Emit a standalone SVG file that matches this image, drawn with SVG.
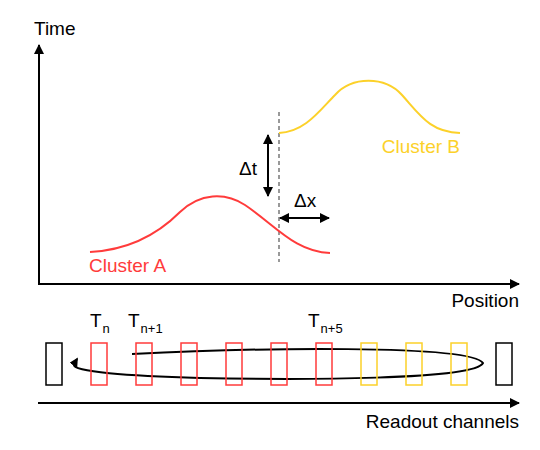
<svg xmlns="http://www.w3.org/2000/svg" width="540" height="450" viewBox="0 0 540 450">
<style>
text{font-family:"Liberation Sans",Arial,sans-serif;font-size:19px;fill:#000}
.ax{stroke:#000;stroke-width:2;fill:none}
.red{stroke:#ff3b3b;stroke-width:2;fill:none}
.yel{stroke:#fcd12a;stroke-width:2;fill:none}
.rr{stroke:#ff3b3b;stroke-width:1.5;fill:none}
.yr{stroke:#fcd12a;stroke-width:1.5;fill:none}
.br{stroke:#000;stroke-width:1.5;fill:none}
.sub{font-size:13px}
</style>
<defs>
<marker id="ah" viewBox="0 0 10 10" refX="9" refY="5" markerWidth="5" markerHeight="5" orient="auto-start-reverse" markerUnits="strokeWidth">
<path d="M0,0 L10,5 L0,10 z" fill="#000"/>
</marker>
<marker id="ah2" viewBox="0 0 10 10" refX="8" refY="5" markerWidth="4.5" markerHeight="4.5" orient="auto" markerUnits="strokeWidth">
<path d="M0,0 L10,5 L0,10 z" fill="#000"/>
</marker>
</defs>
<g id="connectors">
<line class="ax" x1="39" y1="285" x2="39" y2="45" marker-end="url(#ah)"/>
<line class="ax" x1="38" y1="284" x2="519" y2="284" marker-end="url(#ah)"/>
<line class="ax" x1="38" y1="403" x2="519" y2="403" marker-end="url(#ah)"/>
<line x1="279" y1="112" x2="279" y2="262" stroke="#999" stroke-width="2" stroke-dasharray="4,3"/>
<line class="ax" x1="268" y1="135" x2="268" y2="196" marker-start="url(#ah)" marker-end="url(#ah)"/>
<line class="ax" x1="280" y1="218" x2="329" y2="218" marker-start="url(#ah)" marker-end="url(#ah)"/>
<path class="ax" stroke-width="1.8" d="M132,354 C250,348 470,344 483,363 C475,380 300,380 200,378 C130,376 70,372 74,364 L77,359" marker-end="url(#ah2)"/>
</g>
<g id="clusterA">
<path class="red" d="M90,252 C130,250 160,232 180,212 C200,193 225,192 245,205 C275,225 295,252 330,253"/>
<text x="89" y="272" style="fill:#ff3b3b">Cluster A</text>
</g>
<g id="clusterB">
<path class="yel" d="M279,133 C305,132 320,110 335,95 C352,76 385,76 402,95 C420,115 430,132 460,133"/>
<text x="460" y="153" text-anchor="end" style="fill:#fcd12a">Cluster B</text>
</g>
<g id="labels">
<text x="34" y="35">Time</text>
<text x="519" y="307" text-anchor="end">Position</text>
<text x="519" y="428" text-anchor="end">Readout channels</text>
<text x="239" y="175">Δt</text>
<text x="294" y="207">Δx</text>
<text x="90" y="327">T<tspan class="sub" dx="1" dy="6">n</tspan></text>
<text x="128" y="327">T<tspan class="sub" dx="1" dy="6">n+1</tspan></text>
<text x="308" y="327">T<tspan class="sub" dx="1" dy="6">n+5</tspan></text>
</g>
<g id="channels">
<rect class="br" x="46" y="343" width="16" height="42"/>
<rect class="rr" x="91" y="343" width="16" height="42"/>
<rect class="rr" x="136" y="343" width="16" height="42"/>
<rect class="rr" x="181" y="343" width="16" height="42"/>
<rect class="rr" x="226" y="343" width="16" height="42"/>
<rect class="rr" x="271" y="343" width="16" height="42"/>
<rect class="rr" x="316" y="343" width="16" height="42"/>
<rect class="yr" x="361" y="343" width="16" height="42"/>
<rect class="yr" x="406" y="343" width="16" height="42"/>
<rect class="yr" x="451" y="343" width="16" height="42"/>
<rect class="br" x="496" y="343" width="16" height="42"/>
</g>
</svg>
